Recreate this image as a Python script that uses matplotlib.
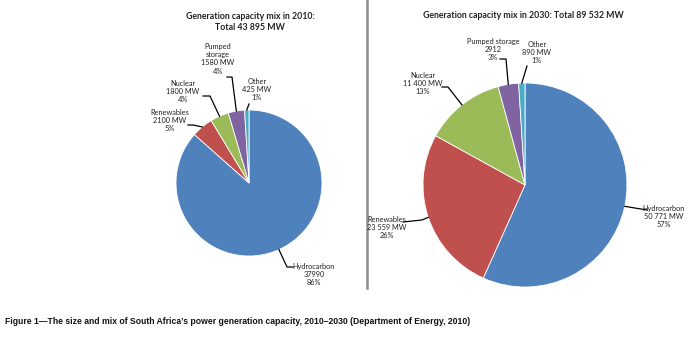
import matplotlib.pyplot as plt
from matplotlib.lines import Line2D
import numpy as np

# data
categories = ['Hydrocarbon', 'Renewables', 'Nuclear', 'Pumped storage', 'Other']
mw_2010 = [37990, 2100, 1800, 1580, 425]
mw_2030 = [50771, 23559, 11400, 2912, 890]
labels_2010 = ['Hydrocarbon\n37990\n86%', 'Renewables\n2100 MW\n5%', 'Nuclear\n1800 MW\n4%',
               'Pumped\nstorage\n1580 MW\n4%', 'Other\n425 MW\n1%']
labels_2030 = ['Hydrocarbon\n50 771 MW\n57%', 'Renewables\n23 559 MW\n26%', 'Nuclear\n11 400 MW\n13%',
               'Pumped storage\n2912\n3%', 'Other\n890 MW\n1%']
colors = ['#4F81BD', '#C0504D', '#9BBB59', '#8064A2', '#4BACC6']

W, H = 698, 337
LABEL_FONT = ['Lato', 'DejaVu Sans']


def py(y):
    # pixel row (from top) -> data y
    return H - y


fig = plt.figure(figsize=(W / 100, H / 100), dpi=100)
ax = fig.add_axes([0, 0, 1, 1])


def draw_pie(values, labels, center, radius, layout):
    wedges, _ = ax.pie(values, colors=colors, startangle=90, counterclock=False,
                       center=(center[0], py(center[1])), radius=radius,
                       wedgeprops=dict(edgecolor='white', linewidth=0.6))
    for w, lab, (tx, ty, path) in zip(wedges, labels, layout):
        ang = np.deg2rad((w.theta1 + w.theta2) / 2)
        ex = w.center[0] + w.r * np.cos(ang)
        ey = w.center[1] + w.r * np.sin(ang)
        xs = [ex] + [p[0] for p in path]
        ys = [ey] + [py(p[1]) for p in path]
        ax.add_line(Line2D(xs, ys, color='black', lw=0.9))
        ax.text(tx, py(ty), lab, ha='center', va='top', fontsize=5.3,
                family=LABEL_FONT, color='#222222', linespacing=1.2)


# label text position (centre x, top y) and leader elbows, in pixels
layout_2010 = [
    (314, 263, [(287, 267), (293, 267)]),
    (170, 109, [(193, 125), (188, 125)]),
    (183, 80, [(210, 96), (203, 96)]),
    (218, 43, [(232, 77), (227, 77)]),
    (257, 78, [(249, 104)]),
]
layout_2030 = [
    (664, 205, [(647, 210)]),
    (387, 216, [(422, 220), (403, 222)]),
    (423, 72, [(448, 87), (442, 87)]),
    (493, 38, [(506, 59), (500, 59)]),
    (537, 41, [(527, 66)]),
]

draw_pie(mw_2010, labels_2010, (249, 183), 73, layout_2010)
draw_pie(mw_2030, labels_2030, (525, 185), 102, layout_2030)

# titles
ax.text(250, py(22), 'Generation capacity mix in 2010:\nTotal 43 895 MW', ha='center', va='center',
        fontsize=6.3, fontweight='bold', family=LABEL_FONT, color='#222222', linespacing=1.3)
ax.text(523, py(16), 'Generation capacity mix in 2030: Total 89 532 MW', ha='center', va='center',
        fontsize=6.3, fontweight='bold', family=LABEL_FONT, color='#222222')

# separator between the two panels
ax.add_line(Line2D([367, 367], [py(0), py(288)], color='#8c8c8c', lw=1.8))

# caption
ax.text(5, py(322), "Figure 1\u2014The size and mix of South Africa\u2019s power generation capacity, "
        "2010\u20132030 (Department of Energy, 2010)", ha='left', va='center', fontsize=6.2,
        fontweight='bold', family=['Liberation Sans Narrow', 'Liberation Sans', 'DejaVu Sans'],
        color='#111111')

ax.set_xlim(0, W)
ax.set_ylim(0, H)
ax.set_aspect('auto')
ax.axis('off')

fig.savefig('out.png', dpi=100)
